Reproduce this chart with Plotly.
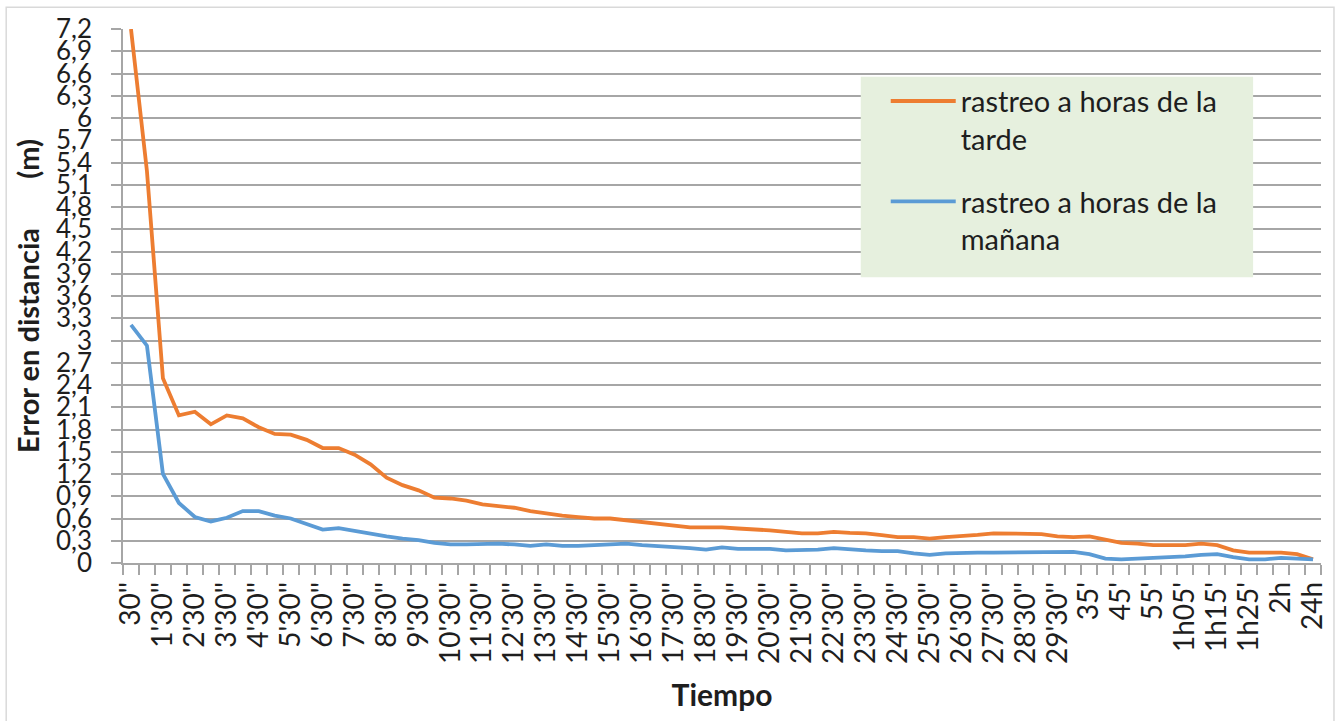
import plotly.graph_objects as go

categories = (
    ["30''"] +
    [s for m in range(1, 30) for s in (f"{m}'", f"{m}'30''")] +
    ["30'", "35'", "40'", "45'", "50'", "55'", "1h", "1h05'", "1h10'", "1h15'",
     "1h20'", "1h25'", "1h30'", "2h", "3h", "24h"]
)

tarde = [7.2, 5.28, 2.49, 1.99, 2.04, 1.87, 1.99, 1.95, 1.83, 1.74,
         1.73, 1.66, 1.55, 1.55, 1.46, 1.33, 1.15, 1.05, 0.98, 0.88,
         0.87, 0.84, 0.79, 0.77, 0.745, 0.70, 0.665, 0.64, 0.62, 0.60,
         0.60, 0.575, 0.555, 0.53, 0.50, 0.48, 0.48, 0.48, 0.465, 0.455,
         0.44, 0.42, 0.40, 0.40, 0.42, 0.405, 0.40, 0.375, 0.35, 0.35,
         0.33, 0.35, 0.36, 0.38, 0.40, 0.40, 0.40, 0.39, 0.36, 0.35,
         0.36, 0.31, 0.27, 0.26, 0.24, 0.24, 0.24, 0.26, 0.24, 0.17,
         0.14, 0.14, 0.14, 0.12, 0.05]

manana = [3.21, 2.93, 1.20, 0.81, 0.62, 0.56, 0.61, 0.70, 0.70, 0.64,
          0.60, 0.52, 0.45, 0.47, 0.43, 0.39, 0.36, 0.33, 0.31, 0.27,
          0.25, 0.25, 0.26, 0.26, 0.25, 0.23, 0.25, 0.23, 0.23, 0.24,
          0.25, 0.26, 0.24, 0.23, 0.21, 0.20, 0.18, 0.21, 0.19, 0.19,
          0.19, 0.17, 0.17, 0.18, 0.20, 0.18, 0.17, 0.16, 0.16, 0.13,
          0.11, 0.13, 0.14, 0.14, 0.14, 0.14, 0.14, 0.14, 0.15, 0.15,
          0.12, 0.06, 0.05, 0.06, 0.06, 0.08, 0.09, 0.11, 0.12, 0.08,
          0.05, 0.05, 0.07, 0.06, 0.05]

y_tick_values = [round(0.3 * k, 1) for k in range(25)]
y_tick_labels = ["0", "0,3", "0,6", "0,9", "1,2", "1,5", "1,8", "2,1", "2,4", "2,7",
                 "3", "3,3", "3,6", "3,9", "4,2", "4,5", "4,8", "5,1", "5,4", "5,7",
                 "6", "6,3", "6,6", "6,9", "7,2"]

series_names = ["rastreo a horas de la<br>tarde", "rastreo a horas de la<br>mañana"]
series_colors = ["#ED7D31", "#5B9BD5"]

FONT = "Lato"
TXT = "#1e1e1e"
GRID = "#A6A6A6"

fig = go.Figure()
for name, vals, col, grp in zip(series_names, [tarde, manana], series_colors, ["a", "b"]):
    fig.add_trace(go.Scatter(x=categories, y=vals, mode="lines", name=name,
                             legendgroup=grp,
                             line=dict(color=col, width=3.8)))

x_ticktext = [c if i % 2 == 0 else "" for i, c in enumerate(categories)]

W, H = 1340, 721
L, R, T, B = 123, 17, 25, 158
pw, ph = W - L - R, H - T - B

def px_x(x):
    return (x - L) / pw

def px_y(y):
    return (H - B - y) / ph

fig.update_layout(
    width=W, height=H,
    margin=dict(l=L, r=R, t=T, b=B),
    paper_bgcolor="white", plot_bgcolor="white",
    font=dict(family=FONT, size=24, color=TXT),
    showlegend=True,
    legend=dict(x=px_x(887), y=px_y(72), xanchor="left", yanchor="top",
                bgcolor="rgba(0,0,0,0)", font=dict(family=FONT, size=29, color=TXT),
                valign="top", tracegroupgap=22, itemwidth=65),
    xaxis=dict(type="category", tickmode="array", tickvals=categories, ticktext=x_ticktext,
               tickangle=-90, tickson="boundaries", ticks="outside", ticklen=10,
               tickcolor=GRID, tickwidth=1.5, showline=True, linecolor=GRID, linewidth=1.5,
               showgrid=False, ticklabelstandoff=6,
               tickfont=dict(family=FONT, size=28, color=TXT),
               range=[-0.5, len(categories) - 0.5],
               title=dict(text="<b>Tiempo</b>", standoff=22,
                          font=dict(family=FONT, size=30, color=TXT))),
    yaxis=dict(range=[0, 7.2], tickmode="array", tickvals=y_tick_values, ticktext=y_tick_labels,
               ticks="outside", ticklen=10, tickcolor=GRID, tickwidth=1.5,
               showgrid=True, gridcolor=GRID, gridwidth=1.5,
               showline=True, linecolor=GRID, linewidth=1.5, zeroline=False,
               ticklabelstandoff=14,
               tickfont=dict(family=FONT, size=26, color=TXT),
               title=dict(text="<b>Error en distancia" + "\u00a0" * 7 + "(m)</b>", standoff=8,
                          font=dict(family=FONT, size=29, color=TXT))),
    shapes=[
        dict(type="rect", xref="paper", yref="paper", layer="above",
             x0=px_x(862), x1=px_x(1255), y0=px_y(275), y1=px_y(73),
             fillcolor="#E6F0DE", line=dict(width=0)),
        dict(type="rect", xref="paper", yref="paper", layer="below",
             x0=px_x(6), x1=px_x(1336), y0=px_y(740), y1=px_y(3),
             fillcolor="rgba(0,0,0,0)", line=dict(color="#D9D9D9", width=1.5)),
    ],
)

fig.write_html("out.html")
